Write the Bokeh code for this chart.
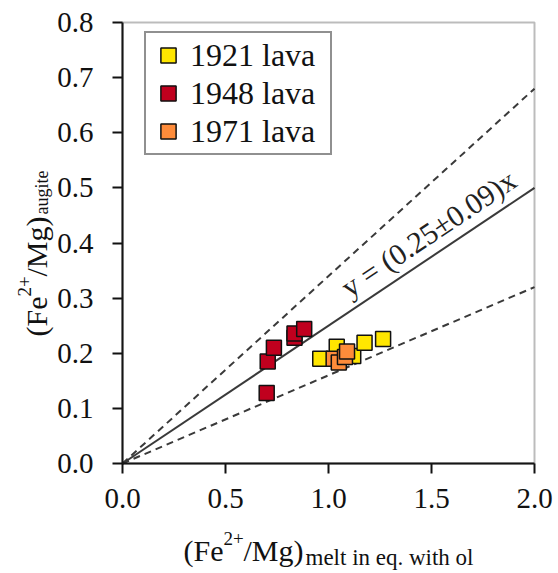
import math
from bokeh.plotting import figure
from bokeh.models import Range1d, Label, Legend, LegendItem, FixedTicker, CustomJSTickFormatter, BoxAnnotation
from bokeh.embed import file_html
from bokeh.resources import INLINE

# ---- data ----
x1921 = [0.96, 1.04, 1.12, 1.175, 1.265]
y1921 = [0.190, 0.212, 0.195, 0.219, 0.226]

x1948 = [0.70, 0.705, 0.735, 0.835, 0.835, 0.882]
y1948 = [0.128, 0.185, 0.210, 0.228, 0.236, 0.244]

x1971 = [1.025, 1.05, 1.08, 1.09]
y1971 = [0.190, 0.183, 0.193, 0.203]

slope = 0.25
slope_err = 0.09
x_line = [0.0, 2.0]

x_min, x_max = 0.0, 2.0
y_min, y_max = 0.0, 0.8
x_ticks = [0.0, 0.5, 1.0, 1.5, 2.0]
y_ticks = [0.0, 0.1, 0.2, 0.3, 0.4, 0.5, 0.6, 0.7, 0.8]

FONT = "Liberation Serif"
C1921 = "#FFE600"
C1948 = "#C0001E"
C1971 = "#FF8C3A"

W, H = 558, 573
FL, FR, FT, FB = 122, 534, 22, 463   # plot-box edges in pixels
sx = (FR - FL) / (x_max - x_min)
sy = (FB - FT) / (y_max - y_min)

p = figure(width=W, height=H, output_backend="svg", toolbar_location=None,
           x_range=Range1d(x_min - FL / sx, x_max + (W - FR) / sx),
           y_range=Range1d(y_min - (H - FB) / sy, y_max + FT / sy),
           min_border=0)
p.background_fill_color = "white"
p.border_fill_color = "white"
p.grid.visible = False
p.outline_line_color = None

for ax in (p.xaxis[0], p.yaxis[0]):
    ax.axis_line_width = 2
    ax.axis_line_color = "#111111"
    ax.major_tick_line_width = 2
    ax.major_tick_line_color = "#111111"
    ax.major_tick_in = 0
    ax.major_tick_out = 10
    ax.minor_tick_line_color = None
    ax.major_label_text_font = FONT
    ax.major_label_text_font_size = "29px"
    ax.major_label_text_color = "#111111"
    ax.formatter = CustomJSTickFormatter(code="return tick.toFixed(1);")

p.xaxis[0].ticker = FixedTicker(ticks=x_ticks)
p.yaxis[0].ticker = FixedTicker(ticks=y_ticks)
p.xaxis[0].fixed_location = y_min
p.yaxis[0].fixed_location = x_min
p.xaxis[0].bounds = (x_min, x_max)
p.yaxis[0].bounds = (y_min, y_max)
p.xaxis[0].major_label_standoff = 15
p.yaxis[0].major_label_standoff = 19

# plot box outline
p.add_layout(BoxAnnotation(left=x_min, right=x_max, bottom=y_min, top=y_max,
                           fill_alpha=0, line_color="#222222", line_width=2))

# fit lines
p.line(x_line, [slope * v for v in x_line], line_color="#3a3a3a", line_width=2)
p.line(x_line, [(slope + slope_err) * v for v in x_line], line_color="#3a3a3a",
       line_width=2, line_dash="7 5")
p.line(x_line, [(slope - slope_err) * v for v in x_line], line_color="#3a3a3a",
       line_width=2, line_dash="7 5")

r1 = p.scatter(x1921, y1921, marker="square", size=15, fill_color=C1921,
               line_color="#111111", line_width=1.5)
r2 = p.scatter(x1948, y1948, marker="square", size=15, fill_color=C1948,
               line_color="#111111", line_width=1.5)
r3 = p.scatter(x1971, y1971, marker="square", size=15, fill_color=C1971,
               line_color="#111111", line_width=1.5)

legend = Legend(items=[LegendItem(label="1921 lava", renderers=[r1]),
                       LegendItem(label="1948 lava", renderers=[r2]),
                       LegendItem(label="1971 lava", renderers=[r3])],
                location=(144, H - 155), orientation="vertical")
legend.label_text_font = FONT
legend.label_text_font_size = "32px"
legend.label_text_color = "#111111"
legend.glyph_width = 38
legend.glyph_height = 38
legend.label_height = 38
legend.label_width = 137
legend.spacing = 0
legend.padding = 3
legend.margin = 0
legend.label_standoff = 3
legend.border_line_color = "#222222"
legend.border_line_width = 2
legend.background_fill_alpha = 1.0
p.add_layout(legend, "center")

# equation label along the solid line
ang = math.atan(slope * sy / sx)
p.add_layout(Label(x=1.075, y=0.315, text="y = (0.25±0.09)x", angle=ang,
                   text_font=FONT, text_font_size="30px", text_color="#222222",
                   text_baseline="alphabetic", text_align="left"))

def xpix(px):
    return x_min + (px - FL) / sx

def ypix(py):
    return y_min + (FB - py) / sy

# x-axis label (composed from pieces)
def xlab(px, py, txt, size):
    p.add_layout(Label(x=xpix(px), y=ypix(py), text=txt, text_font=FONT, text_font_size=size,
                       text_color="#111111", text_baseline="alphabetic"))

xlab(183, 550, "(Fe", "30px")
xlab(223, 538, "2+", "19px")
xlab(243, 550, "/Mg)", "30px")
xlab(305, 557, "melt in eq. with ol", "23px")

# y-axis label (rotated pieces)
up = math.pi / 2
def ylab(px, py, txt, size):
    p.add_layout(Label(x=xpix(px), y=ypix(py), text=txt, text_font=FONT, text_font_size=size,
                       text_color="#111111", text_baseline="alphabetic", angle=up))

ylab(36, 336, "(Fe", "30px")
ylab(24, 296, "2+", "19px")
ylab(36, 276, "/Mg)", "30px")
ylab(41, 214, "augite", "18px")

open("out.html", "w").write(file_html(p, INLINE))
